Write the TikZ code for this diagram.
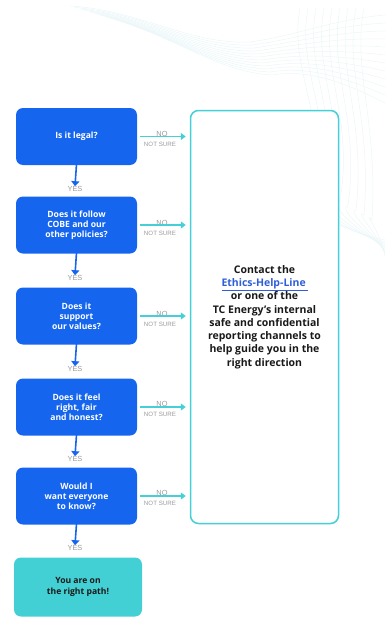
\documentclass[tikz,border=0pt]{standalone}
\usepackage{fontspec}
\setmainfont{Open Sans}
\newfontfamily\thinfont{Liberation Sans}
\usetikzlibrary{arrows.meta}
\definecolor{tc-blue}{HTML}{1565EE}
\definecolor{tc-cyan}{HTML}{45CFD6}
\definecolor{tc-green}{HTML}{43D0D4}
\definecolor{tc-link}{HTML}{2F5FD8}
\definecolor{tc-gray}{HTML}{9A9A9A}
\definecolor{tc-contour}{HTML}{EAF6F8}

\begin{document}
\begin{tikzpicture}[x=1pt, y=-1pt,
    question/.style={draw=none, fill=tc-blue, rounded corners=7pt, minimum width=121pt,
      minimum height=57pt, align=center, text=white, font=\bfseries\fontsize{8.6}{10}\selectfont},
    answer/.style={text=tc-gray, inner sep=0pt, font=\thinfont\fontsize{7.4}{8}\selectfont},
    unsure/.style={text=tc-gray, inner sep=0pt, font=\thinfont\fontsize{6.2}{7}\selectfont},
    yesline/.style={draw=tc-blue, line width=1.6pt, -{Triangle[length=5pt, width=8pt]}},
    noline/.style={draw=tc-cyan, line width=1.6pt, -{Triangle[length=5pt, width=7pt]},
      shorten <=3pt, shorten >=4pt},
    contour/.style={draw=tc-contour, line width=0.5pt}]
  \useasboundingbox (0,0) rectangle (385,618);

  % faint contour lines behind the top
  \foreach \i in {0,...,11}
    \draw[contour] ({70+\i*5},{6+\i*1.5}) .. controls ({140+\i*4},{10+\i*3}) and ({190+\i*3},{45+\i*2.5}) .. ({250+\i*2},{42+\i*3})
      .. controls ({300+\i},{35+\i*3}) and ({330+\i*2},{20+\i*6}) .. ({385},{15+\i*8});
  \foreach \i in {0,...,8}
    \draw[contour] ({300+\i*8},{8}) .. controls ({288+\i*8},{70}) and ({330+\i*6},{120}) .. ({308+\i*8},{180+\i*5})
      .. controls ({298+\i*8},{210}) and ({340+\i*5},{230}) .. ({385},{240+\i*2});

  \node[question] (q1) at (76.5,136.5) {Is it legal?};
  \node[question] (q2) at (76.5,225) {Does it follow\\COBE and our\\other policies?};
  \node[question] (q3) at (76.5,316) {Does it\\support\\our values?};
  \node[question] (q4) at (76.5,407) {Does it feel\\right, fair\\and honest?};
  \node[question] (q5) at (76.5,496) {Would I\\want everyone\\to know?};
  \node[fill=tc-green, rounded corners=7pt, minimum width=128pt, minimum height=59pt, align=center,
    font=\bfseries\fontsize{8.6}{10.5}\selectfont, text=black!90] (ok) at (78,587) {You are on\\the right path!};

  \node[draw=tc-cyan, line width=1.5pt, fill=white, rounded corners=8pt, minimum width=148pt,
    minimum height=413pt, align=center, font=\bfseries\fontsize{10.5}{13.3}\selectfont, text=black!90]
    (help) at (264.5,317) {Contact the\\{\color{tc-link}\underline{Ethics-Help-Line\,}}\\or one of the\\TC Energy's internal\\safe and confidential\\reporting channels to\\help guide you in the\\right direction};

  \foreach \q/\y in {q1/189, q2/278, q3/369, q4/459, q5/548} {
    \node[answer] (yes-\q) at (75,\y) {YES};
    \draw[yesline] (\q.south) -- ++(0,-1) -- (yes-\q.north);
    \node[answer] (no-\q) at (162,{\y-55.5}) {NO};
    \node[unsure] (ns-\q) at (160,{\y-44.5}) {NOT SURE};
    \draw[noline] (\q.east) -- (\q.east -| help.west);
  }
\end{tikzpicture}
\end{document}
